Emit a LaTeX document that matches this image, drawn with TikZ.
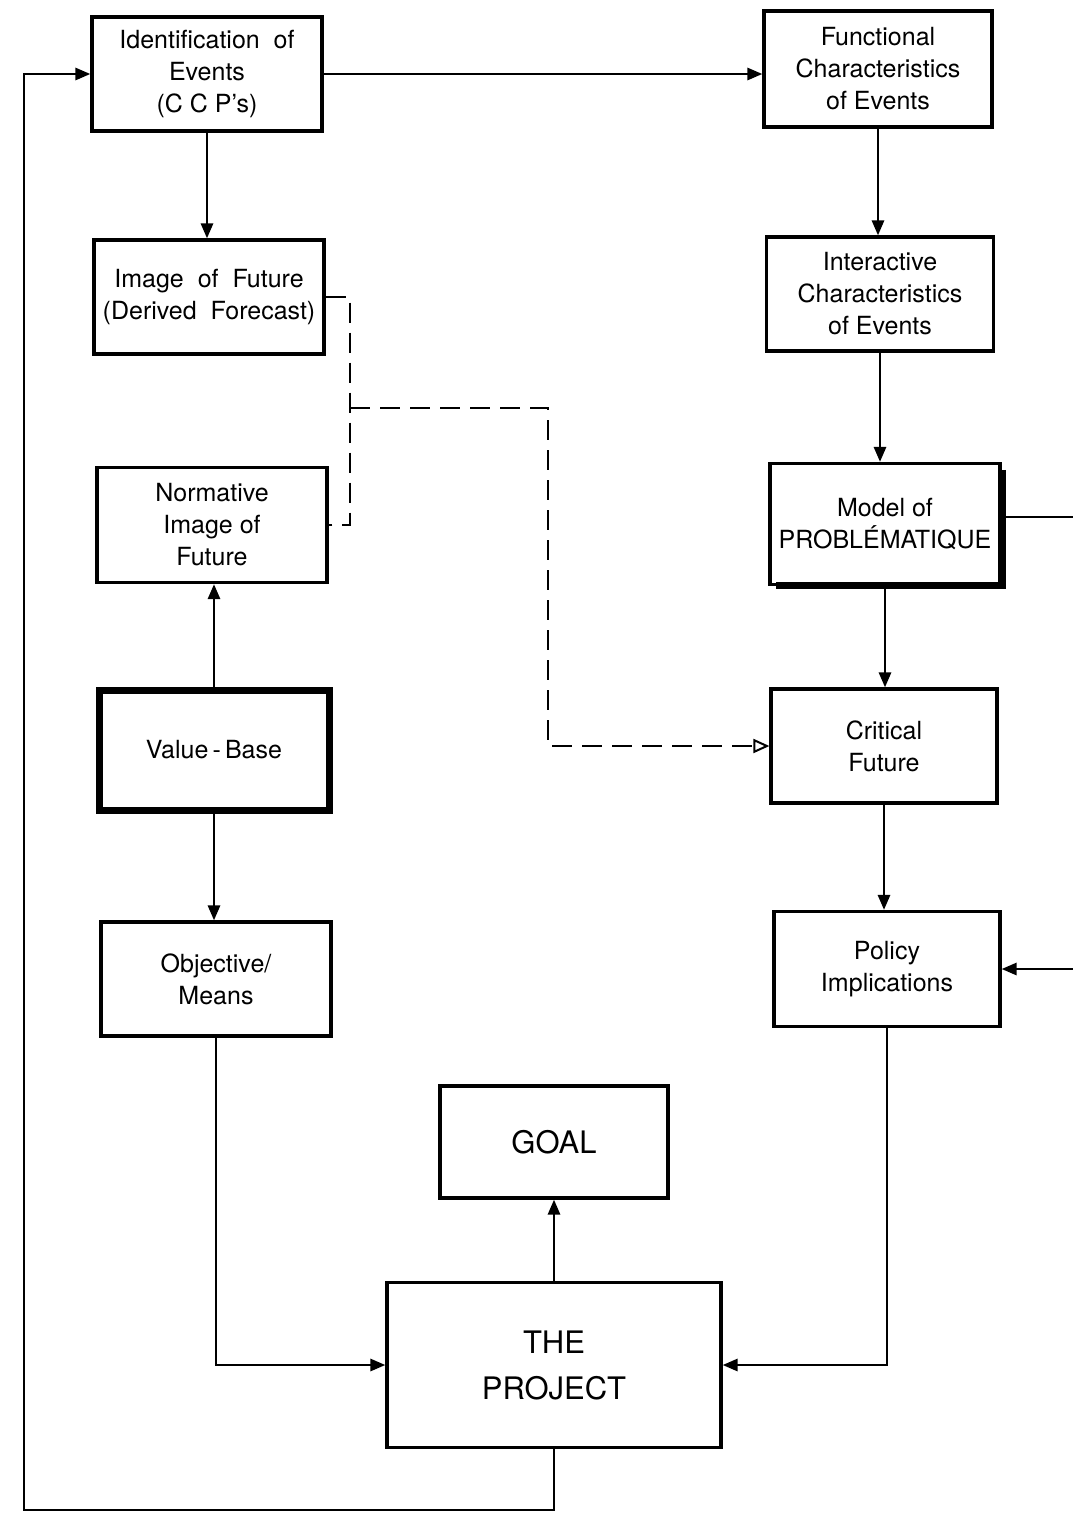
\documentclass[tikz,border=0pt]{standalone}
\usepackage{fontspec}
\setmainfont{TeX Gyre Heros}
\usetikzlibrary{arrows.meta}
\begin{document}
\begin{tikzpicture}[x=1pt,y=-1pt,
  box/.style={draw, line width=3.2pt, align=center, inner sep=0pt,
    font=\fontsize{25}{32}\selectfont},
  thickbox/.style={box, line width=7pt},
  conn/.style={line width=2.8pt},
  arr/.style={conn, -{Triangle[length=15pt,width=12pt]}},
  dashline/.style={line width=2.4pt, dash pattern=on 20pt off 10pt},
  openarr/.style={dashline, -{Triangle[open,length=16pt,width=14pt,line width=2pt]}}]
\useasboundingbox[fill=white] (0,0) rectangle (1073,1516);

\node[box, minimum width=230pt, minimum height=114pt] (id) at (207,74)
  {Identification\ \ of\\Events\\(C C P's)};
\node[box, minimum width=228pt, minimum height=116pt] (fc) at (878,69)
  {Functional\\Characteristics\\of Events};
\node[box, minimum width=230pt, minimum height=114pt] (img) at (209,297)
  {Image\ \ of\ \ Future\\(Derived\ \ Forecast)};
\node[box, minimum width=227pt, minimum height=114pt] (ic) at (880,294)
  {Interactive\\Characteristics\\of Events};
\node[box, minimum width=230pt, minimum height=115pt] (norm) at (212,525)
  {Normative\\Image of\\Future};
\node[box, minimum width=230pt, minimum height=121pt] (model) at (885,524)
  {Model of\\PROBLÉMATIQUE};
\draw[line width=7pt] ([xshift=1pt,yshift=-8pt]model.north east) -- ([xshift=1pt,yshift=1pt]model.south east) -- ([xshift=8pt,yshift=1pt]model.south west);
\node[thickbox, minimum width=230pt, minimum height=120pt] (vb) at (214,750)
  {Value\,-\,Base};
\node[box, minimum width=226pt, minimum height=114pt] (cf) at (884,746)
  {Critical\\Future};
\node[box, minimum width=230pt, minimum height=114pt] (obj) at (216,979)
  {Objective/\\Means};
\node[box, minimum width=226pt, minimum height=115pt] (pol) at (887,969)
  {Policy\\Implications};
\node[box, minimum width=228pt, minimum height=112pt, font=\fontsize{31}{38}\selectfont] (goal) at (554,1142)
  {GOAL};
\node[box, minimum width=334pt, minimum height=165pt, font=\fontsize{31}{46}\selectfont] (proj) at (554,1365)
  {THE\\PROJECT};

% solid connectors
\draw[arr] (id.east) -- (id.east -| fc.west);
\draw[arr] (id.south) -- (id.south |- img.north);
\draw[arr] (fc.south) -- (fc.south |- ic.north);
\draw[arr] (ic.south) -- (ic.south |- model.north);
\draw[arr] ([yshift=3pt]model.south) -- (model.south |- cf.north);
\draw[arr] (cf.south) -- (cf.south |- pol.north);
\draw[arr] (vb.north) -- (vb.north |- norm.south);
\draw[arr] (vb.south) -- (vb.south |- obj.north);
\draw[arr] (obj.south) |- (proj.west);
\draw[arr] (pol.south) |- (proj.east);
\draw[arr] (proj.north) -- (goal.south);
\coordinate (lp) at (24,1510);
\draw[arr] (proj.south) |- (lp) |- (id.west);
\coordinate (re1) at (1073,517);
\coordinate (re2) at (1073,969);
\draw[conn] (model.east |- re1) -- (re1);
\draw[arr] (re2) -- (pol.east);

% dashed connectors
\coordinate (dt) at (350,297);
\coordinate (dj) at (350,408);
\coordinate (db) at (350,525);
\coordinate (dc) at (548,408);
\coordinate (dd) at (548,746);
\draw[dashline] (img.east) -- (dt) -- (db) -- (norm.east);
\draw[openarr] (dj) -- (dc) -- (dd) -- (cf.west);
\end{tikzpicture}
\end{document}
